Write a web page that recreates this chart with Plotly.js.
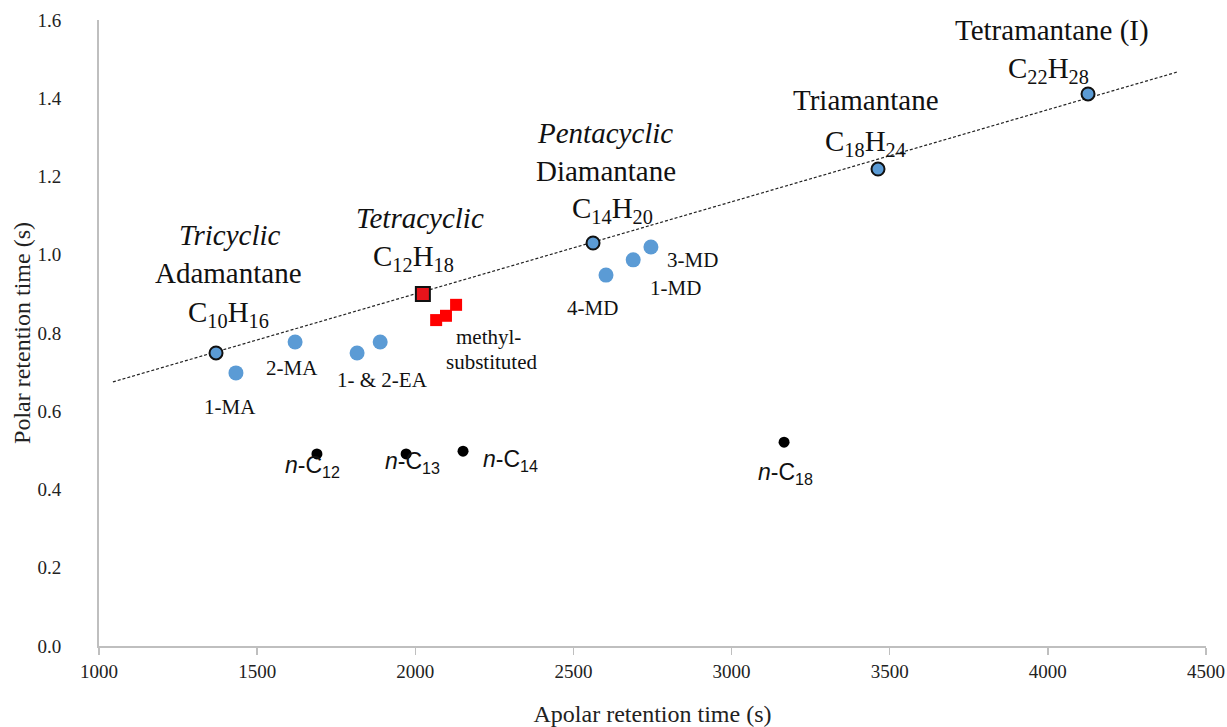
<!DOCTYPE html>
<html>
<head>
<meta charset="utf-8">
<script src="https://cdn.plot.ly/plotly-3.0.1.min.js"></script>
<style>
  html, body { margin: 0; padding: 0; background: #fff; }
  #chart { width: 1227px; height: 727px; }
</style>
</head>
<body>
<div id="chart"></div>
<script>
// Parent diamondoids (lie on the trend line)
const parentNames = ["Adamantane", "Tetracyclic C12H18", "Diamantane", "Triamantane", "Tetramantane (I)"];
const parentX = [1370, 2024, 2562, 3463, 4127];
const parentY = [0.749, 0.900, 1.030, 1.219, 1.411];

// Alkyl-substituted adamantanes and diamantanes
const alkylNames = ["1-MA", "2-MA", "1-EA", "2-EA", "4-MD", "1-MD", "3-MD"];
const alkylX = [1433, 1620, 1816, 1889, 2603, 2689, 2745];
const alkylY = [0.698, 0.777, 0.749, 0.777, 0.948, 0.987, 1.020];

// Methyl-substituted tetracyclic C12H18 compounds
const methylX = [2066, 2097, 2129];
const methylY = [0.833, 0.844, 0.872];

// n-alkanes
const alkaneNames = ["n-C12", "n-C13", "n-C14", "n-C18"];
const alkaneX = [1689, 1971, 2151, 3166];
const alkaneY = [0.491, 0.491, 0.498, 0.521];

// Linear trend line end points
const trendX = [1044, 4409];
const trendY = [0.675, 1.467];

const BLUE = "#5B9BD5";
const RED = "#FF0000";
const SERIF = "'Liberation Serif', 'Times New Roman', serif";
const SANS = "'Liberation Sans', Arial, sans-serif";

const traces = [
  {
    x: trendX, y: trendY, mode: "lines", type: "scatter",
    line: { color: "#222", width: 1.2, dash: "3px,2px" },
    hoverinfo: "skip", showlegend: false
  },
  {
    x: alkylX, y: alkylY, text: alkylNames, mode: "markers", type: "scatter",
    marker: { color: BLUE, size: 15, symbol: "circle" }, showlegend: false
  },
  {
    x: methylX, y: methylY, mode: "markers", type: "scatter",
    marker: { color: RED, size: 12, symbol: "square" }, showlegend: false
  },
  {
    x: alkaneX, y: alkaneY, text: alkaneNames, mode: "markers", type: "scatter",
    marker: { color: "#000", size: 11, symbol: "circle" }, showlegend: false
  },
  {
    x: parentX.filter((v, i) => i !== 1), y: parentY.filter((v, i) => i !== 1),
    text: parentNames.filter((v, i) => i !== 1),
    mode: "markers", type: "scatter",
    marker: { color: BLUE, size: 13, symbol: "circle", line: { color: "#111", width: 2 } },
    showlegend: false
  },
  {
    x: [parentX[1]], y: [parentY[1]], text: [parentNames[1]],
    mode: "markers", type: "scatter",
    marker: { color: "#E8141B", size: 14, symbol: "square", line: { color: "#111", width: 2 } },
    showlegend: false
  }
];

function lab(x, y, text, opts) {
  return Object.assign({
    x: x, y: y, xref: "x", yref: "y", text: text, showarrow: false,
    xanchor: "center", yanchor: "middle",
    font: { family: SERIF, size: 29, color: "#111" }
  }, opts || {});
}
const small = { font: { family: SERIF, size: 21, color: "#111" } };
const alk = { font: { family: SANS, size: 23, color: "#111" } };

const annotations = [
  lab(1414, 1.050, "<i>Tricyclic</i>"),
  lab(1411, 0.953, "Adamantane"),
  lab(1411, 0.849, "C<sub>10</sub>H<sub>16</sub>"),
  lab(2015, 1.094, "<i>Tetracyclic</i>"),
  lab(1993, 0.992, "C<sub>12</sub>H<sub>18</sub>"),
  lab(2600, 1.311, "<i>Pentacyclic</i>"),
  lab(2603, 1.214, "Diamantane"),
  lab(2622, 1.114, "C<sub>14</sub>H<sub>20</sub>"),
  lab(3425, 1.396, "Triamantane"),
  lab(3425, 1.286, "C<sub>18</sub>H<sub>24</sub>"),
  lab(4013, 1.574, "Tetramantane (I)"),
  lab(4001, 1.472, "C<sub>22</sub>H<sub>28</sub>"),
  lab(1414, 0.611, "1-MA", small),
  lab(1610, 0.711, "2-MA", small),
  lab(1895, 0.680, "1- &amp; 2-EA", small),
  lab(2559, 0.864, "4-MD", small),
  lab(2824, 0.915, "1-MD", small),
  lab(2875, 0.987, "3-MD", small),
  lab(2230, 0.790, "methyl-", small),
  lab(2243, 0.726, "substituted", small),
  lab(1674, 0.460, "<i>n</i>-C<sub>12</sub>", alk),
  lab(1990, 0.470, "<i>n</i>-C<sub>13</sub>", alk),
  lab(2300, 0.475, "<i>n</i>-C<sub>14</sub>", alk),
  lab(3169, 0.442, "<i>n</i>-C<sub>18</sub>", alk)
];

const layout = {
  width: 1227, height: 727,
  margin: { l: 99, r: 21, t: 20, b: 81 },
  paper_bgcolor: "#fff", plot_bgcolor: "#fff",
  showlegend: false,
  font: { family: SERIF, color: "#222", size: 19 },
  xaxis: {
    range: [1000, 4500], dtick: 500, tick0: 1000,
    showgrid: false, zeroline: false,
    showline: true, linecolor: "#BFBFBF", linewidth: 2,
    ticks: "outside", ticklen: 7, tickcolor: "#BFBFBF", tickwidth: 1.5,
    tickfont: { family: SERIF, size: 19, color: "#222" },
    title: { text: "Apolar retention time (s)", font: { family: SERIF, size: 24, color: "#222" }, standoff: 24 }
  },
  yaxis: {
    range: [0, 1.6], dtick: 0.2, tickformat: ".1f",
    showgrid: false, zeroline: false,
    showline: true, linecolor: "#BFBFBF", linewidth: 2,
    ticks: "", ticklabelstandoff: 32,
    tickfont: { family: SERIF, size: 19, color: "#222" },
    title: { text: "Polar retention time (s)", font: { family: SERIF, size: 24, color: "#222" }, standoff: 0 }
  },
  annotations: annotations
};

Plotly.newPlot("chart", traces, layout, { displayModeBar: false, staticPlot: true });
</script>
</body>
</html>
